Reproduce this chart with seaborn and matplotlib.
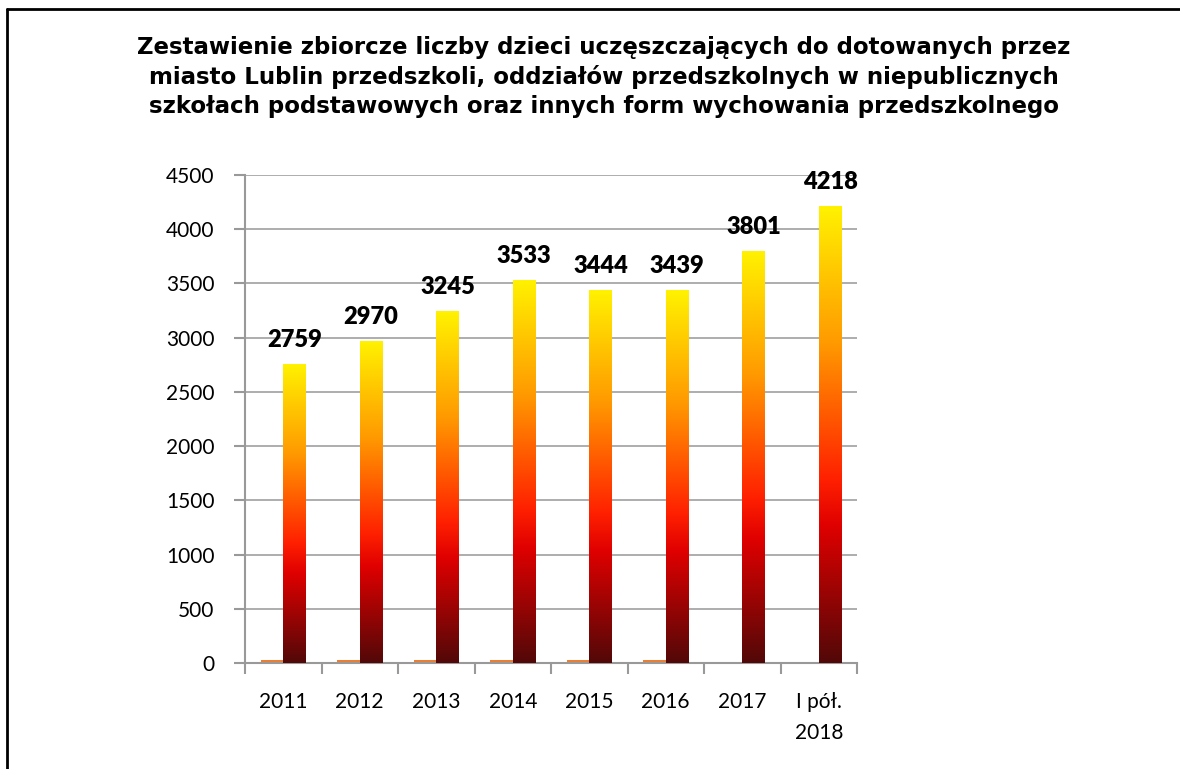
import numpy as np
import pandas as pd
import matplotlib
matplotlib.use("Agg")
import matplotlib.pyplot as plt
from matplotlib.colors import LinearSegmentedColormap
from matplotlib.lines import Line2D
from matplotlib.ticker import FixedLocator
import seaborn as sns

categories = ["2011", "2012", "2013", "2014", "2015", "2016", "2017", "I pół.\n2018"]
main_values = [2759, 2970, 3245, 3533, 3444, 3439, 3801, 4218]
small_values = [25, 25, 25, 25, 25, 25, 0, 0]
title = ("Zestawienie zbiorcze liczby dzieci uczęszczających do dotowanych przez\n"
         "miasto Lublin przedszkoli, oddziałów przedszkolnych w niepublicznych\n"
         "szkołach podstawowych oraz innych form wychowania przedszkolnego")

sns.set_theme(style="white")
plt.rcParams['font.family'] = ['Lato', 'DejaVu Sans']
plt.rcParams['text.color'] = 'black'
plt.rcParams['xtick.color'] = 'black'
plt.rcParams['ytick.color'] = 'black'
plt.rcParams['xtick.labelcolor'] = 'black'
plt.rcParams['ytick.labelcolor'] = 'black'

df = pd.DataFrame({
    "cat": categories * 2,
    "val": small_values + main_values,
    "series": ["small"] * len(categories) + ["main"] * len(categories),
})

fig = plt.figure(figsize=(11.8, 7.69), dpi=100)
ax = fig.add_axes([245/1180, 1 - 663/769, (857-245)/1180, (663-175)/769])

sns.barplot(data=df, x="cat", y="val", hue="series", hue_order=["small", "main"],
            palette={"small": "#ed7d31", "main": "#ff0000"}, width=0.59, gap=0,
            dodge=True, legend=False, ax=ax, saturation=1, linewidth=0, errorbar=None)

ax.set_xlim(-0.5, len(categories) - 0.5)
ax.set_ylim(0, 4500)
ax.set_autoscale_on(False)

cmap = LinearSegmentedColormap.from_list("grad", [
    (0.0, "#520808"), (0.30, "#e00000"), (0.40, "#ff2000"),
    (0.70, "#ff9a00"), (1.0, "#fff200")])
grad = np.linspace(0, 1, 256).reshape(-1, 1)

main_bars = ax.containers[1]
for bar in main_bars:
    x, w, h = bar.get_x(), bar.get_width(), bar.get_height()
    bar.set_facecolor("none")
    im = ax.imshow(grad, cmap=cmap, origin="lower", aspect="auto",
                   extent=[x, x + w, 0, h], zorder=3, interpolation="bilinear")
    im.set_clip_path(bar)
    ax.annotate(f"{int(h)}", (x + w / 2, h), xytext=(0, 17), textcoords="offset points",
                ha="center", va="center", fontsize=17, fontweight="heavy", color="black",
                zorder=5)

ax.set_yticks(np.arange(0, 4501, 500))
ax.set_yticklabels([str(v) for v in range(0, 4501, 500)], fontsize=15)
ax.set_xticks(range(len(categories)))
ax.set_xticklabels(categories, fontsize=15, linespacing=1.7, va="top")
ax.xaxis.set_minor_locator(FixedLocator(np.arange(-0.5, len(categories), 1.0)))
ax.tick_params(axis="x", which="major", length=0, pad=21)
ax.tick_params(axis="x", which="minor", length=8, width=1.5, color="#999999", direction="out", bottom=True)
ax.tick_params(axis="y", length=8, width=1.5, color="#999999", direction="out", left=True, pad=14)
ax.set_xlabel("")
ax.set_ylabel("")

ax.yaxis.grid(True, color="#a0a0a0", linewidth=1.2)
ax.set_axisbelow(True)
for s in ["top", "right"]:
    ax.spines[s].set_visible(False)
for s in ["left", "bottom"]:
    ax.spines[s].set_color("#999999")
    ax.spines[s].set_linewidth(1.5)

fig.text(604/1180, 1 - 77/769, title, ha="center", va="center", fontsize=16.5,
         fontweight="bold", family=["DejaVu Sans"], color="black",
         linespacing=1.3)

fig.add_artist(Line2D([7/1180, 1], [1 - 9/769, 1 - 9/769], color="black", lw=2, transform=fig.transFigure))
fig.add_artist(Line2D([7/1180, 7/1180], [0, 1 - 9/769], color="black", lw=2, transform=fig.transFigure))

fig.savefig("out.png", dpi=100)
